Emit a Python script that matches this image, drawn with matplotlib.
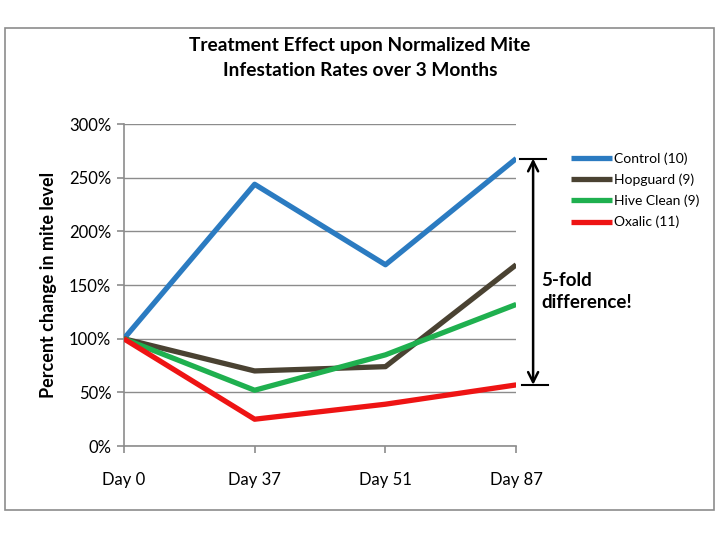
import matplotlib
matplotlib.use('Agg')
import matplotlib.pyplot as plt
from matplotlib.patches import Rectangle
from matplotlib.ticker import FuncFormatter

plt.rcParams['font.family'] = ['Lato', 'DejaVu Sans']

days = ['Day 0', 'Day 37', 'Day 51', 'Day 87']
control = [100, 244, 169, 268]
hopguard = [100, 70, 74, 169]
hive_clean = [100, 52, 85, 132]
oxalic = [100, 25, 39, 57]

series = [
    ('Control (10)', control, '#2b7bc1'),
    ('Hopguard (9)', hopguard, '#4a4232'),
    ('Hive Clean (9)', hive_clean, '#1fb04f'),
    ('Oxalic (11)', oxalic, '#ee1414'),
]

fig = plt.figure(figsize=(7.2, 5.4), dpi=100)
ax = fig.add_axes([0.172, 0.174, 0.545, 0.596])

x = range(len(days))
for label, vals, col in series:
    ax.plot(x, vals, color=col, lw=3.8, label=label, solid_capstyle='butt', zorder=3)

ax.set_xlim(0, 3)
ax.set_ylim(0, 300)
ax.set_yticks(range(0, 301, 50))
ax.yaxis.set_major_formatter(FuncFormatter(lambda v, p: f'{int(v)}%'))
ax.set_xticks(list(x))
ax.set_xticklabels(days)
ax.grid(axis='y', color='#8c8c8c', lw=1)
ax.set_axisbelow(True)
for s in ['top', 'right']:
    ax.spines[s].set_visible(False)
for s in ['left', 'bottom']:
    ax.spines[s].set_color('#8c8c8c')
    ax.spines[s].set_linewidth(1.2)
ax.tick_params(axis='both', colors='#8c8c8c', labelcolor='black', labelsize=12, length=5, width=1.2)
ax.tick_params(axis='x', pad=14)
ax.tick_params(axis='y', pad=4)

ax.set_ylabel('Percent change in mite level', fontsize=13, fontweight='bold', labelpad=9)

fig.text(0.5, 0.893, 'Treatment Effect upon Normalized Mite\nInfestation Rates over 3 Months',
         ha='center', va='center', fontsize=13.8, fontweight='bold', linespacing=1.55)

# double arrow showing the gap between Control and Oxalic at Day 87
trans = ('axes fraction', 'data')
ax.annotate('', xy=(1.043, control[-1]), xytext=(1.043, oxalic[-1]), xycoords=trans, textcoords=trans,
            arrowprops=dict(arrowstyle='<->', lw=1.8, color='black', mutation_scale=18,
                            shrinkA=0, shrinkB=0), annotation_clip=False)
ax.plot([1.01, 1.077], [control[-1], control[-1]], color='black', lw=1.5,
        transform=ax.get_yaxis_transform(), clip_on=False)
ax.plot([1.015, 1.08], [oxalic[-1], oxalic[-1]], color='black', lw=1.5,
        transform=ax.get_yaxis_transform(), clip_on=False)
ax.text(1.064, 144, '5-fold\ndifference!', transform=ax.get_yaxis_transform(),
        ha='left', va='center', fontsize=13.5, fontweight='bold', linespacing=1.4)

fig.legend(loc='upper left', bbox_to_anchor=(0.785, 0.728), frameon=False, fontsize=10,
           handlelength=3.0, handletextpad=0.1, labelspacing=0.62, borderaxespad=0)

fig.patches.append(Rectangle((0.007, 0.055), 0.984, 0.893, transform=fig.transFigure,
                             fill=False, edgecolor='#8c8c8c', lw=1.2))

fig.savefig('out.png', dpi=100)
